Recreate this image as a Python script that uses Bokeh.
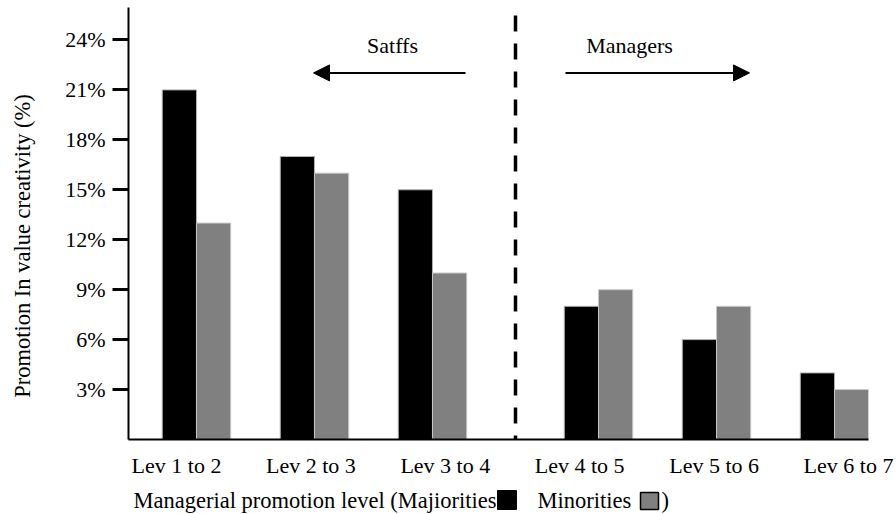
from bokeh.plotting import figure
from bokeh.layouts import column
from bokeh.core.properties import value
from bokeh.models import (Label, Arrow, NormalHead, FixedTicker, CustomJSTickFormatter,
                          PrintfTickFormatter, Range1d)
from bokeh.embed import file_html
from bokeh.resources import INLINE

# ---- data ----
categories = ["Lev 1 to 2", "Lev 2 to 3", "Lev 3 to 4", "Lev 4 to 5", "Lev 5 to 6", "Lev 6 to 7"]
majorities = [21, 17, 15, 8, 6, 4]
minorities = [13, 16, 10, 9, 8, 3]
y_ticks = [3, 6, 9, 12, 15, 18, 21, 24]
group_names = ["Satffs", "Managers"]
x_title_parts = ["Managerial promotion level (Majiorities", "Minorities", ")"]

FONT = "Liberation Serif"
FS = "22px"

# ---- layout helpers ----
W, H = 896, 480
BL, BR, BT, BB = 128, 28, 7, 37
X0, X1 = -0.576, 5.695
Y0, Y1 = 0, 25.95
fw, fh = W - BL - BR, H - BT - BB

def px_x(px):  # canvas pixel -> data x
    return (px - BL) / fw * (X1 - X0) + X0

def px_y(py):  # canvas pixel -> data y
    return Y1 - (py - BT) / fh * (Y1 - Y0)

gap = 0.407
positions = [i + (gap if i >= 3 else 0) for i in range(len(categories))]
bw = 0.29
x_maj = [c - bw / 2 for c in positions]
x_min = [c + bw / 2 for c in positions]

t0 = px_x(176)
step = (px_x(848) - t0) / 5
label_locs = [t0 + i * step for i in range(len(categories))]

p = figure(width=W, height=H, x_range=Range1d(X0, X1), y_range=Range1d(Y0, Y1),
           output_backend="svg", toolbar_location=None,
           min_border_left=BL, min_border_right=BR, min_border_top=BT, min_border_bottom=BB)
p.outline_line_color = None
p.xgrid.visible = False
p.ygrid.visible = False
p.background_fill_color = "white"

p.vbar(x=x_maj, top=majorities, width=bw, fill_color="black", line_color="#b0b0b0", line_width=1)
p.vbar(x=x_min, top=minorities, width=bw, fill_color="#808080", line_color="#c8c8c8", line_width=1)

mid = (positions[2] + positions[3]) / 2
p.segment(x0=[mid], y0=[px_y(15)], x1=[mid], y1=[0], line_color="black",
          line_width=3.5, line_dash="16 12")

# axes
ya = p.yaxis[0]
ya.ticker = FixedTicker(ticks=y_ticks)
ya.formatter = PrintfTickFormatter(format="%d%%")
ya.major_tick_out = 16
ya.major_tick_in = 0
ya.major_tick_line_width = 3
ya.minor_tick_line_color = None
ya.axis_line_width = 2
ya.major_label_standoff = 7
ya.major_label_text_font = FONT
ya.major_label_text_font_size = FS
ya.major_label_text_color = "black"
ya.axis_label = "Promotion In value creativity (%)\u2003\u2003"
ya.axis_label_standoff = 27
ya.axis_label_text_font = FONT
ya.axis_label_text_font_size = "22.5px"
ya.axis_label_text_font_style = "normal"
ya.axis_label_text_color = "black"

xa = p.xaxis[0]
xa.ticker = FixedTicker(ticks=label_locs)
xa.formatter = CustomJSTickFormatter(args=dict(labels=categories, locs=label_locs), code="""
const i = locs.findIndex(v => Math.abs(v - tick) < 1e-6);
return i >= 0 ? labels[i] : '';
""")
xa.major_tick_line_color = None
xa.minor_tick_line_color = None
xa.axis_line_width = 2
xa.major_label_standoff = 7
xa.major_label_text_font = FONT
xa.major_label_text_font_size = FS
xa.major_label_text_color = "black"

# group annotations
ya_arrow = px_y(73)
p.add_layout(Arrow(end=NormalHead(size=16, fill_color="black", line_color="black"),
                   x_start=px_x(465), y_start=ya_arrow, x_end=px_x(313), y_end=ya_arrow,
                   line_width=2, line_color="black"))
p.add_layout(Arrow(end=NormalHead(size=16, fill_color="black", line_color="black"),
                   x_start=px_x(565), y_start=ya_arrow, x_end=px_x(749), y_end=ya_arrow,
                   line_width=2, line_color="black"))
p.add_layout(Label(x=px_x(392), y=px_y(45), text=group_names[0], text_align="center",
                   text_baseline="middle", text_font=FONT, text_font_size=FS, text_color="black"))
p.add_layout(Label(x=px_x(629), y=px_y(45), text=group_names[1], text_align="center",
                   text_baseline="middle", text_font=FONT, text_font_size=FS, text_color="black"))

# ---- x axis title row with inline legend swatches ----
# (the column layout aligns this row's frame with the chart frame: BL .. W-BR)
H2 = 34
p2 = figure(width=W, height=H2, x_range=Range1d(BL, W - BR), y_range=Range1d(H2, 0),
            x_axis_location=None, y_axis_location=None,
            min_border_left=BL, min_border_right=BR, min_border_top=0, min_border_bottom=0,
            output_backend="svg", toolbar_location=None)
p2.outline_line_color = None
p2.grid.visible = False
p2.text(x=[133, 537, 661], y=[20, 20, 20], text=x_title_parts,
        text_align="left", text_baseline="alphabetic",
        text_font=value(FONT), text_font_size="22.5px", text_color="black")
p2.quad(left=[497], right=[516], top=[10], bottom=[29], fill_color="black", line_color="black")
p2.quad(left=[640], right=[658], top=[12], bottom=[29], fill_color="#808080",
        line_color="black", line_width=1.5)

layout = column(p, p2, spacing=0)
open("out.html", "w").write(file_html(layout, INLINE))
